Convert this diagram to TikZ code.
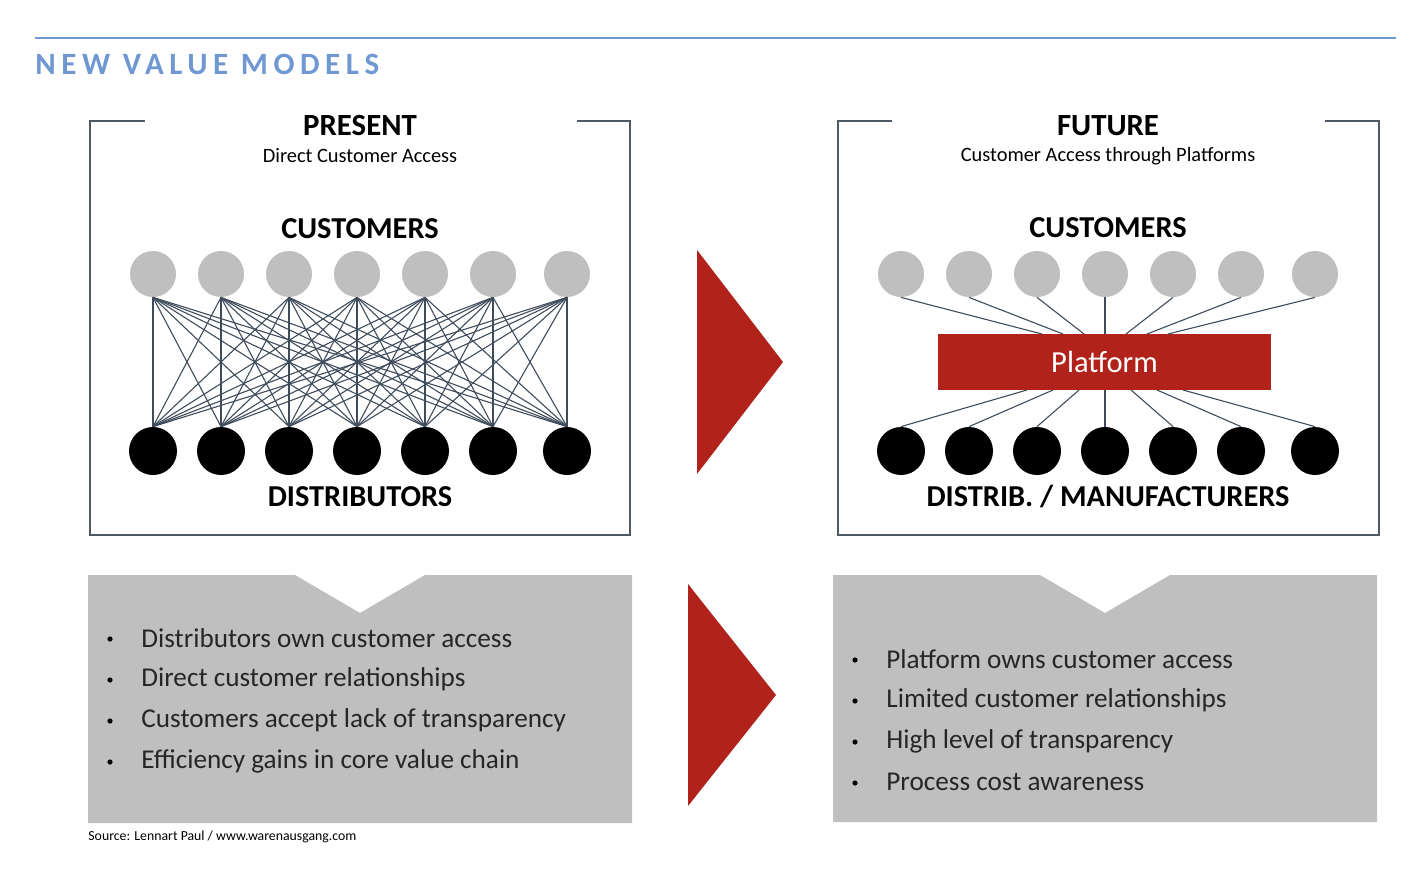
\documentclass[tikz,border=0pt]{standalone}
\usepackage{fontspec}
\setmainfont{Carlito}
\usetikzlibrary{positioning}
\definecolor{hdrblue}{HTML}{6F97D2}
\definecolor{platred}{HTML}{B0221A}
\definecolor{boxgray}{HTML}{BFBFBF}
\definecolor{framegray}{HTML}{505A66}
\definecolor{linkgray}{HTML}{3F4C5C}

\begin{document}
\begin{tikzpicture}[x=0.5pt,y=-0.5pt,
  cust/.style={circle,fill=boxgray,minimum size=23pt,inner sep=0pt},
  dist/.style={circle,fill=black,minimum size=24pt,inner sep=0pt},
  link/.style={draw=linkgray,line width=0.55pt},
  frame/.style={draw=framegray,line width=0.8pt},
  heading/.style={font=\bfseries\fontsize{15.4}{17}\selectfont,inner sep=0pt},
  subhead/.style={font=\fontsize{10.2}{12}\selectfont,inner sep=0pt},
  group/.style={font=\bfseries\fontsize{15.2}{17}\selectfont,inner sep=0pt},
  item/.style={font=\fontsize{13.6}{15}\selectfont,anchor=west,inner sep=0pt,text=black!85},
  dot/.style={circle,fill=black,minimum size=2.6pt,inner sep=0pt}]
\useasboundingbox (0,0) rectangle (1428,868);
% title
\draw[hdrblue,line width=1pt] (35,38) -- (1396,38);
\node[anchor=west,inner sep=0pt,text=hdrblue,font=\bfseries\fontsize{15.5}{17}\selectfont\addfontfeature{LetterSpace=18}] (title) at (35,64) {NEW VALUE MODELS};
% frames with open top
\draw[frame] (145,121) -- (90,121) -- (90,535) -- (630,535) -- (630,121) -- (577,121);
\draw[frame] (892,121) -- (838,121) -- (838,535) -- (1379,535) -- (1379,121) -- (1325,121);
\node[heading] (present) at (360,126) {PRESENT};
\node[subhead] (presentsub) at (360,156) {Direct Customer Access};
\node[heading] (future) at (1108,126) {FUTURE};
\node[subhead] (futuresub) at (1108,156) {Customer Access through Platforms};
\node[group] (custL) at (360,229) {CUSTOMERS};
\node[group] (distL) at (360,497) {DISTRIBUTORS};
\node[group] (custR) at (1108,228) {CUSTOMERS};
\node[group] (distR) at (1108,497) {DISTRIB. / MANUFACTURERS};
% present: every customer to every distributor
\foreach \i/\xx in {1/153,2/221,3/289,4/357,5/425,6/493,7/567} {
  \node[cust] (c\i) at (\xx,274) {};
  \node[dist] (d\i) at (\xx,451) {};
}
\foreach \i in {1,...,7}
  \foreach \j in {1,...,7}
    \draw[link] (c\i.south) -- (d\j.north);
% future: all through the platform
\node[fill=platred,text=white,font=\fontsize{15.3}{17}\selectfont,minimum width=166.5pt,minimum height=28pt] (plat) at (1104.5,362) {Platform};
\foreach \i/\xx in {1/901,2/969,3/1037,4/1105,5/1173,6/1241,7/1315} {
  \node[cust] (fc\i) at (\xx,274) {};
  \node[dist] (fd\i) at (\xx,451) {};
  \coordinate (pin\i) at ({1105+21*(\i-4)},334);
  \coordinate (pout\i) at ({1105+26*(\i-4)},390);
  \draw[link] (fc\i.south) -- (pin\i);
  \draw[link] (pout\i) -- (fd\i.north);
}
% red arrows
\fill[platred] (697,250) -- (783,362) -- (697,474) -- cycle;
\fill[platred] (688,584) -- (776,695) -- (688,806) -- cycle;
% gray boxes with notch
\fill[boxgray] (88,575) -- (295,575) -- (360,613) -- (425,575) -- (632,575) -- (632,823) -- (88,823) -- cycle;
\fill[boxgray] (833,575) -- (1040,575) -- (1105,613) -- (1170,575) -- (1377,575) -- (1377,822) -- (833,822) -- cycle;
\foreach \k/\t in {1/Distributors own customer access,2/Direct customer relationships,3/Customers accept lack of transparency,4/Efficiency gains in core value chain} {
  \node[dot] (ldot\k) at (110,{639+41*(\k-1)}) {};
  \node[item] (ltext\k) at (141,{638+41*(\k-1)}) {\t};
}
\foreach \k/\t in {1/Platform owns customer access,2/Limited customer relationships,3/High level of transparency,4/Process cost awareness} {
  \node[dot] (rdot\k) at (855,{660+41*(\k-1)}) {};
  \node[item] (rtext\k) at (886,{659+41*(\k-1)}) {\t};
}
\node[anchor=west,inner sep=0pt,font=\fontsize{6.9}{8}\selectfont] (source) at (88,837) {Source: Lennart Paul / www.warenausgang.com};
\end{tikzpicture}
\end{document}
